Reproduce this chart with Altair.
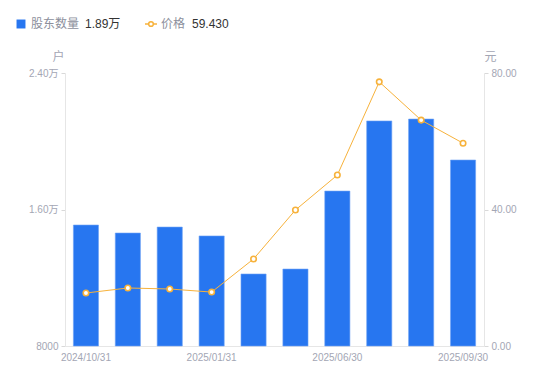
import altair as alt
import pandas as pd

dates = ["2024/10/31", "2024/11/30", "2024/12/31", "2025/01/31", "2025/02/28",
         "2025/03/31", "2025/06/30", "2025/07/31", "2025/08/31", "2025/09/30"]
holders = [15090, 14620, 14970, 14450, 12220, 12510, 17080, 21190, 21300, 18900]
prices = [15.53, 17.0, 16.7, 15.8, 25.5, 39.85, 50.1, 77.4, 66.2, 59.43]
shown_dates = ["2024/10/31", "2025/01/31", "2025/06/30", "2025/09/30"]

BLUE = "#2776f0"
ORANGE = "#f7b23b"
GREY = "#a3a6b4"
FONT = "Liberation Sans, Noto Sans CJK SC"

df = pd.DataFrame({"date": dates, "holders": holders, "price": prices})

last_h = f"{holders[-1] / 10000:.2f}万"
last_p = f"{prices[-1]:.3f}"

x = alt.X("date:N", sort=dates, title=None,
          scale=alt.Scale(paddingInner=0.4, paddingOuter=0.2),
          axis=alt.Axis(labelAngle=0, ticks=False, domainColor="#e6e6e6",
                        labelColor=GREY, labelFont=FONT, labelFontSize=10,
                        labelPadding=6,
                        labelExpr="indexof(" + str(shown_dates).replace("'", '"') + ", datum.value) >= 0 ? datum.value : ''"))

bars = alt.Chart(df).mark_bar(color=BLUE, stroke="#6fa3f5", strokeWidth=0.6).encode(
    x=x,
    y=alt.Y("holders:Q", scale=alt.Scale(domain=[8000, 24000], nice=False, zero=False),
            axis=alt.Axis(values=[8000, 16000, 24000], grid=False,
                          domainColor="#e6e6e6", tickColor="#d9d9d9", tickSize=4,
                          labelColor=GREY, labelFont=FONT, labelFontSize=10, labelPadding=3,
                          labelExpr="datum.value >= 10000 ? format(datum.value/10000, '.2f') + '万' : format(datum.value, 'd')",
                          title="户", titleAngle=0, titleColor=GREY, titleFont=FONT,
                          titleFontSize=12, titleFontWeight="normal",
                          titleX=-7, titleY=-10, titleAlign="center")),
    y2=alt.datum(8000),
)

py = alt.Y("price:Q", scale=alt.Scale(domain=[0, 80], nice=False),
           axis=alt.Axis(values=[0, 40, 80], grid=False, orient="right",
                         domainColor="#e6e6e6", tickColor="#d9d9d9", tickSize=4,
                         labelColor=GREY, labelFont=FONT, labelFontSize=10, labelPadding=3,
                         format=".2f",
                         title="元", titleAngle=0, titleColor=GREY, titleFont=FONT,
                         titleFontSize=12, titleFontWeight="normal",
                         titleX=6, titleY=-10, titleAlign="center"))

line = alt.Chart(df).mark_line(color=ORANGE, strokeWidth=1).encode(x=x, y=py)
pts = alt.Chart(df).mark_point(shape="circle", size=30, filled=True, fill="white",
                               stroke=ORANGE, strokeWidth=1.6, opacity=1).encode(x=x, y=py)

leg = pd.DataFrame({"k": [0]})
base = alt.Chart(leg)
sq = base.mark_square(color=BLUE, size=80, opacity=1).encode(x=alt.value(-44), y=alt.value(-49))
t1 = base.mark_text(align="left", baseline="middle", font=FONT, fontSize=12, color="#8c8f9c").encode(
    x=alt.value(-34), y=alt.value(-49), text=alt.value("股东数量"))
t2 = base.mark_text(align="left", baseline="middle", font=FONT, fontSize=12, color="#333333").encode(
    x=alt.value(20), y=alt.value(-49), text=alt.value(last_h))
lr = base.mark_rule(color=ORANGE, strokeWidth=1.5).encode(
    x=alt.value(80), x2=alt.value(92), y=alt.value(-49))
lp = base.mark_point(shape="circle", size=22, filled=True, fill="white", stroke=ORANGE,
                     strokeWidth=1.5, opacity=1).encode(x=alt.value(86), y=alt.value(-49))
t3 = base.mark_text(align="left", baseline="middle", font=FONT, fontSize=12, color="#8c8f9c").encode(
    x=alt.value(96), y=alt.value(-49), text=alt.value("价格"))
t4 = base.mark_text(align="left", baseline="middle", font=FONT, fontSize=12, color="#333333").encode(
    x=alt.value(127), y=alt.value(-49), text=alt.value(last_p))

main = alt.layer(bars, alt.layer(line, pts)).resolve_scale(y="independent")
chart = alt.layer(main, sq, t1, t2, lr, lp, t3, t4).properties(
    width=419, height=273,
    autosize=alt.AutoSizeParams(type="none"),
    padding={"left": 57, "top": 65, "right": 58, "bottom": 27},
).configure_view(stroke=None)

chart.save("out.html", embed_options={"renderer": "svg", "actions": False})
